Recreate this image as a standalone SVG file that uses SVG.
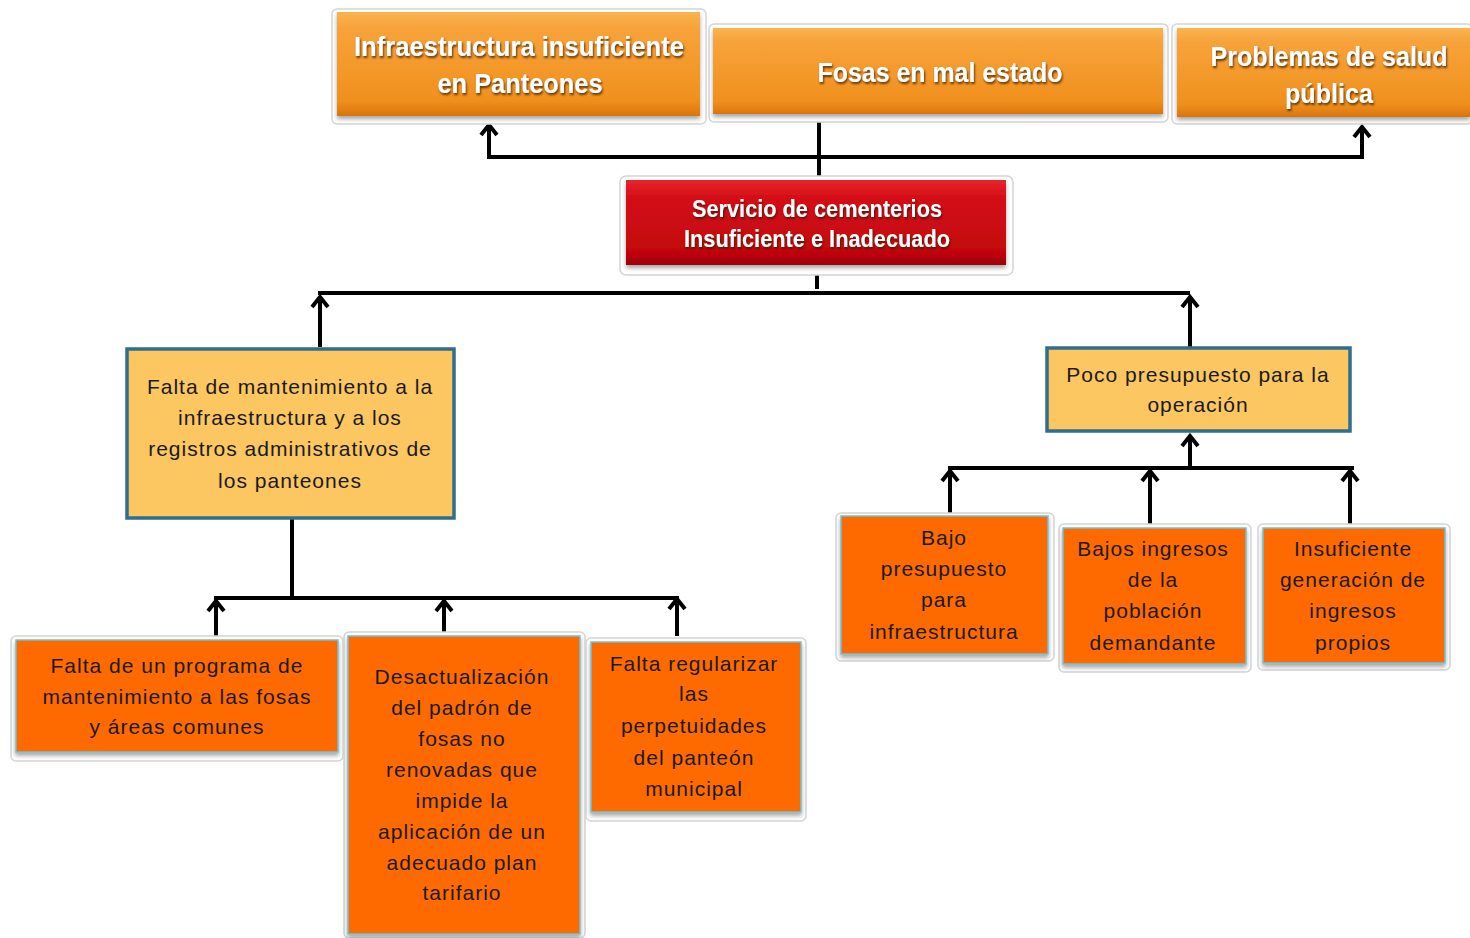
<svg xmlns="http://www.w3.org/2000/svg" width="1470" height="938" viewBox="0 0 1470 938">
<defs>
<linearGradient id="gOr" x1="0" y1="0" x2="0" y2="1">
<stop offset="0" stop-color="#FBB44F"/>
<stop offset="0.15" stop-color="#F7A33A"/>
<stop offset="0.85" stop-color="#F0901E"/>
<stop offset="1" stop-color="#D9750C"/>
</linearGradient>
<linearGradient id="gRed" x1="0" y1="0" x2="0" y2="1">
<stop offset="0" stop-color="#E8242B"/>
<stop offset="0.2" stop-color="#D40F17"/>
<stop offset="0.85" stop-color="#C2060E"/>
<stop offset="1" stop-color="#9E0008"/>
</linearGradient>
<filter id="sh" x="-10%" y="-10%" width="120%" height="130%">
<feGaussianBlur in="SourceAlpha" stdDeviation="2"/>
<feOffset dx="0" dy="3" result="b"/>
<feFlood flood-color="#000" flood-opacity="0.35"/>
<feComposite in2="b" operator="in"/>
<feMerge><feMergeNode/><feMergeNode in="SourceGraphic"/></feMerge>
</filter>
<filter id="tsh" x="-3%" y="-20%" width="106%" height="150%">
<feGaussianBlur in="SourceAlpha" stdDeviation="1.2"/>
<feOffset dx="1" dy="2" result="b"/>
<feFlood flood-color="#3a1a00" flood-opacity="0.8"/>
<feComposite in2="b" operator="in"/>
<feMerge><feMergeNode/><feMergeNode in="SourceGraphic"/></feMerge>
</filter>
<marker id="arr" viewBox="-14 -12 18 24" markerWidth="18" markerHeight="24" markerUnits="userSpaceOnUse" orient="auto" refX="0" refY="0">
<path d="M-11,-8 L-1,0 L-11,8" fill="none" stroke="#000" stroke-width="4" stroke-linejoin="miter"/>
</marker>
</defs>
<style>
.frame{fill:#fff;stroke:#d4d4d4;stroke-width:1.5}
.top{fill:url(#gOr)}
.ttl{font-family:"Liberation Sans",Arial,sans-serif;font-weight:bold;fill:#fff;text-anchor:middle}
.yel{fill:#FCC661;stroke:#2F6E8C;stroke-width:3.5}
.org{fill:#FE6B02;stroke:#6CC3DA;stroke-width:1.5}
.txt{font-family:"Liberation Sans",Arial,sans-serif;font-size:21px;letter-spacing:1px;fill:#1a1a1a;text-anchor:middle}
.ln{fill:none;stroke:#000;stroke-width:4}
.ar{fill:none;stroke:#000;stroke-width:4;marker-end:url(#arr)}
</style>
<rect width="1470" height="938" fill="#fff"/>

<g id="connectors">
<path class="ln" d="M819,114 V178"/>
<path class="ln" d="M487,157 H1364"/>
<path class="ar" d="M489,157 V124"/>
<path class="ar" d="M1362,157 V126"/>
<path class="ln" d="M817,266 V289"/>
<path class="ln" d="M318,293 H1190"/>
<path class="ar" d="M320,347 V296"/>
<path class="ar" d="M1190,347 V296"/>
<path class="ln" d="M292,519 V597"/>
<path class="ln" d="M214,598 H679"/>
<path class="ar" d="M216,641 V600"/>
<path class="ar" d="M444,637 V600"/>
<path class="ar" d="M677,636 V598"/>
<path class="ar" d="M1190,469 V435"/>
<path class="ln" d="M948,468 H1354"/>
<path class="ar" d="M950,517 V470"/>
<path class="ar" d="M1150,527 V470"/>
<path class="ar" d="M1350,527 V470"/>
</g>

<g id="n-infra">
<rect class="frame" x="332" y="9" width="374" height="115" rx="5"/>
<rect class="top" x="337" y="12" width="363" height="104" filter="url(#sh)"/>
<g filter="url(#tsh)">
<text class="ttl" x="519" y="56" font-size="28" textLength="330" lengthAdjust="spacingAndGlyphs">Infraestructura insuficiente</text>
<text class="ttl" x="520" y="93" font-size="28" textLength="165" lengthAdjust="spacingAndGlyphs">en Panteones</text>
</g>
</g>

<g id="n-fosas">
<rect class="frame" x="709" y="24" width="459" height="98" rx="5"/>
<rect class="top" x="713" y="28" width="450" height="86" filter="url(#sh)"/>
<g filter="url(#tsh)">
<text class="ttl" x="940" y="82" font-size="28" textLength="245" lengthAdjust="spacingAndGlyphs">Fosas en mal estado</text>
</g>
</g>

<g id="n-salud">
<rect class="frame" x="1172" y="24" width="300" height="100" rx="5"/>
<rect class="top" x="1177" y="28" width="293" height="89" filter="url(#sh)"/>
<g filter="url(#tsh)">
<text class="ttl" x="1329" y="66" font-size="28" textLength="237" lengthAdjust="spacingAndGlyphs">Problemas de salud</text>
<text class="ttl" x="1329" y="103" font-size="28" textLength="88" lengthAdjust="spacingAndGlyphs">pública</text>
</g>
</g>

<g id="n-servicio">
<rect class="frame" x="620" y="176" width="393" height="99" rx="6"/>
<rect x="626" y="180" width="380" height="85" fill="url(#gRed)" filter="url(#sh)"/>
<g filter="url(#tsh)">
<text class="ttl" x="817" y="217" font-size="24" textLength="250" lengthAdjust="spacingAndGlyphs">Servicio de cementerios</text>
<text class="ttl" x="817" y="247" font-size="24" textLength="266" lengthAdjust="spacingAndGlyphs">Insuficiente e Inadecuado</text>
</g>
</g>

<g id="n-falta-mant">
<rect class="yel" x="127" y="349" width="327" height="169"/>
<text class="txt" x="290" y="394">Falta de mantenimiento a la</text>
<text class="txt" x="290" y="425">infraestructura y a los</text>
<text class="txt" x="290" y="456">registros administrativos de</text>
<text class="txt" x="290" y="488">los panteones</text>
</g>

<g id="n-poco">
<rect class="yel" x="1047" y="348" width="303" height="83"/>
<text class="txt" x="1198" y="382">Poco presupuesto  para la</text>
<text class="txt" x="1198" y="412">operación</text>
</g>

<g id="n-programa">
<rect class="frame" x="11" y="636" width="332" height="125" rx="5"/>
<rect class="org" x="16" y="640" width="322" height="112" filter="url(#sh)"/>
<text class="txt" x="177" y="673">Falta de un programa de</text>
<text class="txt" x="177" y="704">mantenimiento a las fosas</text>
<text class="txt" x="177" y="734">y áreas comunes</text>
</g>

<g id="n-desact">
<rect class="frame" x="344" y="632" width="241" height="306" rx="5"/>
<rect class="org" x="348" y="636" width="232" height="298" filter="url(#sh)"/>
<text class="txt" x="462" y="684">Desactualización</text>
<text class="txt" x="462" y="715">del padrón de</text>
<text class="txt" x="462" y="746">fosas no</text>
<text class="txt" x="462" y="777">renovadas que</text>
<text class="txt" x="462" y="808">impide la</text>
<text class="txt" x="462" y="839">aplicación de un</text>
<text class="txt" x="462" y="870">adecuado plan</text>
<text class="txt" x="462" y="900">tarifario</text>
</g>

<g id="n-regularizar">
<rect class="frame" x="586" y="638" width="220" height="183" rx="5"/>
<rect class="org" x="591" y="642" width="210" height="170" filter="url(#sh)"/>
<text class="txt" x="694" y="671">Falta regularizar</text>
<text class="txt" x="694" y="701">las</text>
<text class="txt" x="694" y="733">perpetuidades</text>
<text class="txt" x="694" y="765">del panteón</text>
<text class="txt" x="694" y="796">municipal</text>
</g>

<g id="n-bajo-pres">
<rect class="frame" x="836" y="513" width="218" height="148" rx="5"/>
<rect class="org" x="841" y="516" width="207" height="138" filter="url(#sh)"/>
<text class="txt" x="944" y="545">Bajo</text>
<text class="txt" x="944" y="576">presupuesto</text>
<text class="txt" x="944" y="607">para</text>
<text class="txt" x="944" y="639">infraestructura</text>
</g>

<g id="n-bajos-ingresos">
<rect class="frame" x="1059" y="524" width="192" height="148" rx="5"/>
<rect class="org" x="1063" y="528" width="183" height="136" filter="url(#sh)"/>
<text class="txt" x="1153" y="556">Bajos ingresos</text>
<text class="txt" x="1153" y="587">de la</text>
<text class="txt" x="1153" y="618">población</text>
<text class="txt" x="1153" y="650">demandante</text>
</g>

<g id="n-insuficiente">
<rect class="frame" x="1258" y="524" width="192" height="146" rx="5"/>
<rect class="org" x="1263" y="528" width="182" height="135" filter="url(#sh)"/>
<text class="txt" x="1353" y="556">Insuficiente</text>
<text class="txt" x="1353" y="587">generación de</text>
<text class="txt" x="1353" y="618">ingresos</text>
<text class="txt" x="1353" y="650">propios</text>
</g>
</svg>
